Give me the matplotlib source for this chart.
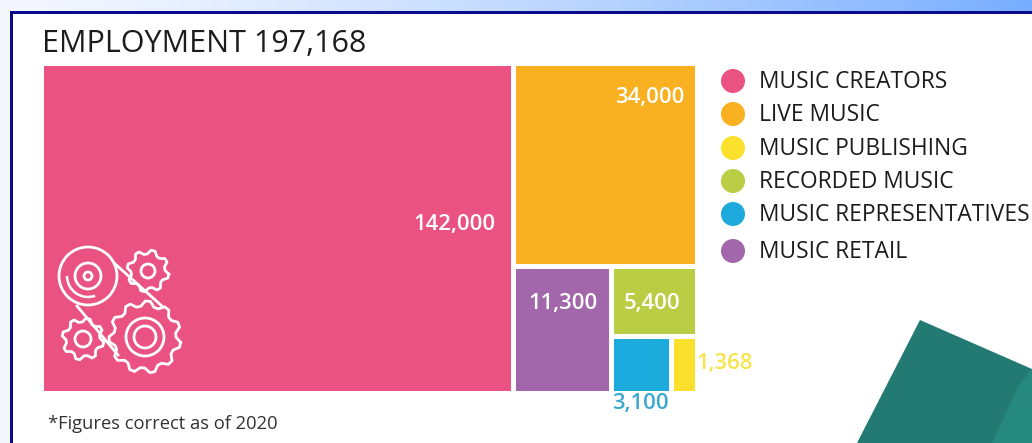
import numpy as np
import matplotlib
matplotlib.use('Agg')
import matplotlib.pyplot as plt
from matplotlib.patches import Rectangle, Circle, Polygon, Arc

plt.rcParams['font.family'] = ['Open Sans', 'DejaVu Sans']

categories = ['MUSIC CREATORS', 'LIVE MUSIC', 'MUSIC PUBLISHING',
              'RECORDED MUSIC', 'MUSIC REPRESENTATIVES', 'MUSIC RETAIL']
values = [142000, 34000, 1368, 5400, 3100, 11300]
labels = ['142,000', '34,000', '1,368', '5,400', '3,100', '11,300']
colors = ['#ea5282', '#f9b122', '#fbe02c', '#b9ce44', '#1caadd', '#a266aa']
title = 'EMPLOYMENT 197,168'
note = '*Figures correct as of 2020'

W, H = 1032, 443


def treemap(values):
    # slice and dice, same order the original uses
    creators, live, pub, rec, rep, retail = values
    total = float(sum(values))
    out = {}
    x1 = creators / total
    out[0] = (0, 0, x1, 1)
    rest = total - creators
    y1 = live / rest
    out[1] = (x1, 0, 1 - x1, y1)
    low = rest - live
    x2 = x1 + (1 - x1) * retail / low
    out[5] = (x1, y1, x2 - x1, 1 - y1)
    small = low - retail
    y2 = y1 + (1 - y1) * rec / small
    out[3] = (x2, y1, 1 - x2, y2 - y1)
    x3 = x2 + (1 - x2) * rep / (rep + pub)
    out[4] = (x2, y2, x3 - x2, 1 - y2)
    out[2] = (x3, y2, 1 - x3, 1 - y2)
    return out


def gear(ax, cx, cy, r, teeth, depth, lw=2.0):
    n = teeth * 4
    ang = np.arange(n + 1) * 2 * np.pi / n + 0.15
    rad = np.where(np.arange(n + 1) % 4 < 2, r, r - depth)
    ax.plot(cx + rad * np.cos(ang), cy + rad * np.sin(ang),
            color='white', lw=lw, solid_joinstyle='round')


fig = plt.figure(figsize=(W / 100, H / 100), dpi=100, facecolor='white')

# page furniture in pixel coordinates
bg = fig.add_axes([0, 0, 1, 1])
bg.axis('off')
grad = np.linspace(0, 1, 256).reshape(1, -1) ** 1.3
cols = np.array([0.96, 0.97, 1.0]) + grad[..., None] * (np.array([0.47, 0.68, 1.0]) - np.array([0.96, 0.97, 1.0]))
bg.imshow(cols, extent=[0, W, 11, 0], aspect='auto', zorder=1)
bg.set_xlim(0, W)
bg.set_ylim(H, 0)
bg.add_patch(Rectangle((0, 11), 10, H, fc='#f5f7fe', ec='none', zorder=1))
bg.add_patch(Rectangle((10, 11), W, 2.5, fc='#0a0a8c', ec='none', zorder=2))
bg.add_patch(Rectangle((10, 11), 2.5, H, fc='#0a0a8c', ec='none', zorder=2))
bg.add_patch(Polygon([(920, 320), (1032, 369), (1032, 443), (857, 443)], fc='#237a72', ec='none', zorder=1))
bg.add_patch(Polygon([(1032, 369), (1032, 443), (992, 443), (1019, 385)], fc='#25897f', ec='none', zorder=1))

# treemap axes, slightly bigger than the blocks so the white edge gives the gaps
pad = 3
x0, x1_, y0, y1_ = 44 - pad, 694 + pad, 66 - pad, 390 + pad
ax = fig.add_axes([x0 / W, 1 - y1_ / H, (x1_ - x0) / W, (y1_ - y0) / H])
ax.set_xlim(0, 1)
ax.set_ylim(1, 0)
ax.axis('off')
ax.patch.set_alpha(0)
rects = treemap(values)
for i, (x, y, w, h) in rects.items():
    ax.add_patch(Rectangle((x, y), w, h, fc=colors[i], ec='white', lw=3.6))

# overlay for text and the icon
top = fig.add_axes([0, 0, 1, 1])
top.set_xlim(0, W)
top.set_ylim(H, 0)
top.axis('off')
top.patch.set_alpha(0)

top.text(42, 44, title, fontsize=22, color='#1c1c1c', va='center', ha='left')
top.text(48, 424, note, fontsize=13.2, color='#333333', va='center', ha='left')

val_fs = 15.9
wt = 'semibold'
top.text(495, 224, labels[0], fontsize=val_fs, color='white', ha='right', va='center', fontweight=wt)
top.text(684, 97, labels[1], fontsize=val_fs, color='white', ha='right', va='center', fontweight=wt)
top.text(598, 304, labels[5], fontsize=val_fs, color='white', ha='right', va='center', fontweight=wt)
top.text(680, 304, labels[3], fontsize=val_fs, color='white', ha='right', va='center', fontweight=wt)
top.text(696, 363, labels[2], fontsize=val_fs, color='#f7e34a', ha='left', va='center', fontweight=wt)
top.text(640, 404, labels[4], fontsize=val_fs, color='#3aa8d0', ha='center', va='center', fontweight=wt)

legend_y = [81, 114, 148, 181, 214, 251]
for name, c, y in zip(categories, colors, legend_y):
    top.add_patch(Circle((733, y), 12, fc=c, ec='none'))
    top.text(759, y + 1, name, fontsize=16.4, color='#1c1c1c', ha='left', va='center')

# icon
gear(top, 145, 337, 36, 11, 5)
gear(top, 148, 271, 21, 8, 4)
gear(top, 83, 339, 21, 8, 4)
for cx, cy, r in [(145, 337, 19), (145, 337, 11), (148, 271, 7), (83, 339, 8),
                  (88, 276, 29), (88, 276, 13), (88, 276, 4)]:
    top.add_patch(Circle((cx, cy), r, fc='#ea5282', ec='white', lw=2.0, zorder=3))
top.add_patch(Arc((88, 276), 42, 42, theta1=70, theta2=180, ec='white', lw=1.8, zorder=4))
for xs, ys in [((113, 163), (262, 307)), ((77, 118), (306, 355))]:
    top.plot(xs, ys, color='white', lw=2.0, zorder=2)

fig.savefig('out.png', dpi=100)
